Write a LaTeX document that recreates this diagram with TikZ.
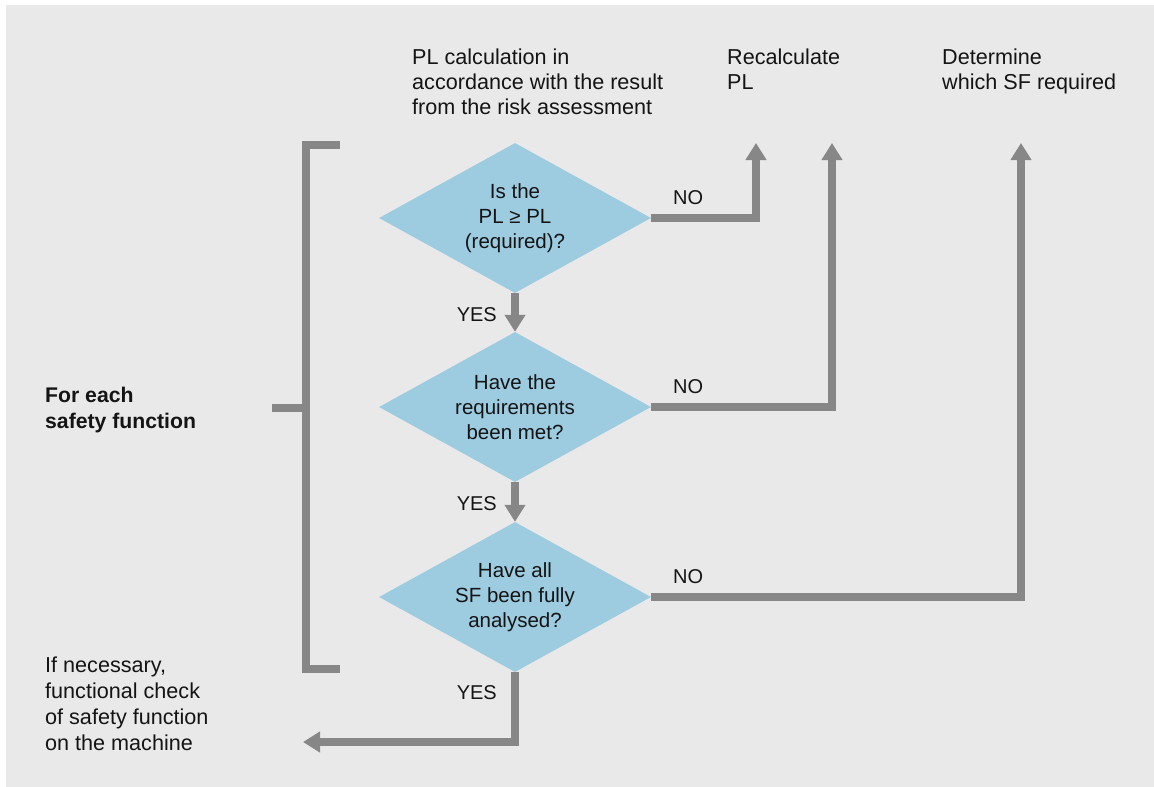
\documentclass[tikz,border=0pt]{standalone}
\usepackage{fontspec}
\setmainfont{Liberation Sans}
\usetikzlibrary{shapes.geometric,arrows.meta}
\pgfdeclarelayer{back}
\pgfsetlayers{back,main}
\definecolor{bgc}{HTML}{E9E9E9}
\definecolor{linec}{HTML}{878787}
\definecolor{diac}{HTML}{9DCBE0}
\definecolor{txt}{HTML}{141414}
\begin{document}
\begin{tikzpicture}[x=1pt,y=-1pt,
  every node/.style={text=txt,font=\fontsize{20.5}{25}\selectfont,inner sep=0pt},
  decision/.style={diamond,fill=diac,aspect=1.83,minimum width=272pt,minimum height=150pt,align=center},
  conn/.style={draw=linec,line width=8pt,line join=miter},
  arr/.style={conn,-{Triangle[width=20pt,length=17pt]}},
  lbl/.style={anchor=base west,align=left,font=\fontsize{21.6}{25}\selectfont},
  yes/.style={anchor=base east,font=\fontsize{20}{24}\selectfont},
  no/.style={anchor=base west,font=\fontsize{20}{24}\selectfont}]
\useasboundingbox (0,0) rectangle (1154,787);
\begin{pgfonlayer}{back}
\fill[bgc] (6,5) rectangle (1154,787);
\end{pgfonlayer}

% texts (anchor = baseline of the last line)
\node[lbl] (t1) at (412,114) {PL calculation in\\accordance with the result\\from the risk assessment};
\node[lbl] (t2) at (727,89) {Recalculate\\PL};
\node[lbl] (t3) at (942,89) {Determine\\which SF required};
\node[lbl,font=\fontsize{21.2}{25.5}\selectfont\bfseries] (t4) at (45,428) {For each\\safety function};
\node[lbl,font=\fontsize{21.6}{25.7}\selectfont] (t5) at (45,750) {If necessary,\\functional check\\of safety function\\on the machine};

% decisions
\node[decision] (d1) at (515,218) {Is the\\PL ≥ PL\\(required)?};
\node[decision] (d2) at (515,407) {Have the\\requirements\\been met?};
\node[decision] (d3) at (515,597) {Have all\\SF been fully\\analysed?};

\coordinate (a1) at (756,143);
\coordinate (a2) at (832,143);
\coordinate (a3) at (1021,143);
\coordinate (a4) at (303,742);

\begin{pgfonlayer}{back}
\draw[arr] (d1.south) -- (d2.north);
\draw[arr] (d2.south) -- (d3.north);
\draw[arr] (d1.east) -| (a1);
\draw[arr] (d2.east) -| (a2);
\draw[arr] (d3.east) -| (a3);
\draw[arr] (d3.south) |- (a4);
% bracket
\coordinate (b1) at (340,145);
\coordinate (b2) at (306,145);
\coordinate (b3) at (306,669);
\coordinate (b4) at (340,669);
\coordinate (b5) at (272,408);
\coordinate (b6) at (306,408);
\draw[conn] (b1) -- (b2) -- (b3) -- (b4);
\draw[conn] (b5) -- (b6);
\end{pgfonlayer}

% labels
\node[no] (n1) at (673,204) {NO};
\node[no] (n2) at (673,393) {NO};
\node[no] (n3) at (673,583) {NO};
\node[yes] (y1) at (497,321) {YES};
\node[yes] (y2) at (497,510) {YES};
\node[yes] (y3) at (497,699) {YES};
\end{tikzpicture}
\end{document}
